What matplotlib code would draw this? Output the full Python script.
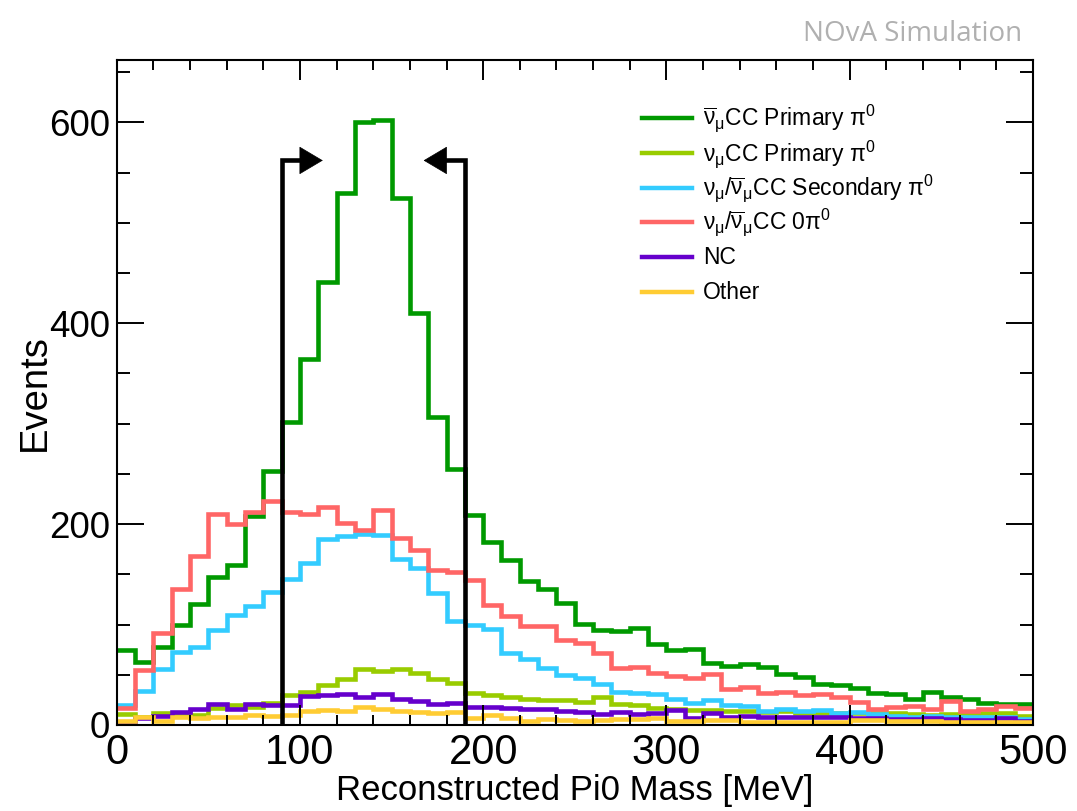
import numpy as np
import matplotlib
matplotlib.use("Agg")
import matplotlib.pyplot as plt
from matplotlib.ticker import MultipleLocator

# ---- data: reconstructed pi0 mass, 10 MeV bins from 0 to 500 MeV ----
bin_edges = np.arange(0, 510, 10)

numubar_cc_primary = [75, 63, 78, 100, 120, 147, 159, 208, 253, 302,
                      364, 441, 530, 600, 602, 525, 410, 307, 255, 209,
                      182, 164, 143, 135, 121, 101, 95, 94, 97, 81,
                      75, 76, 62, 59, 61, 58, 51, 48, 41, 40,
                      37, 32, 31, 26, 33, 28, 26, 22, 21, 21]
numu_cc_primary = [11, 8, 12, 11, 10, 17, 20, 18, 22, 30,
                   33, 40, 46, 56, 54, 56, 52, 46, 42, 32,
                   30, 27.5, 26, 25, 25, 23, 28, 21, 20, 17,
                   16, 15, 15, 14, 14, 13, 14, 12, 12, 12,
                   12, 12, 12, 11, 10, 11, 11, 12, 12, 9]
cc_secondary = [20, 34, 56, 73, 78, 95, 110, 118, 132, 145,
                161, 185, 188, 190, 189, 165, 156, 131, 104, 100,
                96, 72, 66, 57, 50, 47, 41, 33, 31.5, 30.5,
                26, 22, 25, 20, 19, 14, 16, 14, 15, 12,
                13, 11, 9, 8, 9, 8, 8, 8, 8, 6]
cc_zero_pi0 = [17, 55, 92, 135, 168, 210, 200, 212, 223, 212,
               210, 217, 201, 194, 214, 186, 174, 154, 152, 144,
               119, 109, 98.5, 99, 85, 82, 72, 57, 58, 52,
               49, 47, 51, 36, 38, 32, 33, 30, 31, 28,
               23, 16, 18, 19, 16, 24, 14, 16, 19, 17]
nc = [2, 7, 9, 13, 16, 21, 16, 21, 20, 20,
      29, 30, 31, 28, 31, 26, 24, 21, 22, 18,
      17.5, 16.5, 16, 15.5, 14, 13, 11, 13, 11, 12,
      15, 7, 12, 8, 9, 8, 8, 8, 8, 8,
      7, 7, 6, 6, 7, 6, 5, 5, 7, 4]
other = [4, 8, 4, 8, 7, 8, 8, 10, 9, 10,
         14, 15, 14, 18, 16, 14, 13, 12, 13, 7,
         10, 7, 4, 6, 5, 4, 5, 6, 6, 7,
         4, 4, 5, 5, 3, 3, 3, 3, 3, 3,
         5, 5, 4, 4, 4, 3, 3, 3, 3, 3]

labels = [r"$\overline{\nu}_{\mu}$CC Primary $\pi^{0}$",
          r"$\nu_{\mu}$CC Primary $\pi^{0}$",
          r"$\nu_{\mu}/\overline{\nu}_{\mu}$CC Secondary $\pi^{0}$",
          r"$\nu_{\mu}/\overline{\nu}_{\mu}$CC 0$\pi^{0}$",
          "NC",
          "Other"]
colors = ["#009900", "#99cc00", "#33ccff", "#ff6666", "#6600cc", "#ffcc33"]
series = [numubar_cc_primary, numu_cc_primary, cc_secondary,
          cc_zero_pi0, nc, other]

# selection window on the reconstructed mass
cut_low, cut_high = 90, 190
cut_marker_height = 562

plt.rcParams["font.family"] = ["Liberation Sans", "DejaVu Sans"]
plt.rcParams["mathtext.fontset"] = "custom"
plt.rcParams["mathtext.rm"] = "Liberation Sans"
plt.rcParams["mathtext.it"] = "Liberation Sans"
plt.rcParams["mathtext.bf"] = "Liberation Sans:bold"
plt.rcParams["mathtext.default"] = "regular"

W, H = 1077, 811
fig = plt.figure(figsize=(W / 100, H / 100), dpi=100)
ax_left, ax_right, ax_top, ax_bottom = 116.6, 1033.0, 60.0, 725.0
ax = fig.add_axes([ax_left / W, 1 - ax_bottom / H,
                   (ax_right - ax_left) / W, (ax_bottom - ax_top) / H])

for vals, col in zip(series, colors):
    ax.stairs(vals, bin_edges, color=col, lw=3.3, baseline=None)

# cut markers: vertical bar with an arrow pointing into the window
for cut, direction in [(cut_low, 1), (cut_high, -1)]:
    shaft_end = cut + direction * 10
    ax.plot([cut, cut, shaft_end], [0, cut_marker_height, cut_marker_height],
            color="black", lw=3.3, solid_joinstyle="miter", zorder=5)
    ax.annotate("", xy=(shaft_end + direction * 12.5, cut_marker_height),
                xytext=(shaft_end - direction * 0.5, cut_marker_height),
                arrowprops=dict(arrowstyle="-|>,head_length=1.6,head_width=0.95",
                                mutation_scale=10, color="black", lw=0.5,
                                shrinkA=0, shrinkB=0),
                zorder=5)

ax.set_xlim(0, 500)
ax.set_ylim(0, 662)
ax.xaxis.set_major_locator(MultipleLocator(100))
ax.xaxis.set_minor_locator(MultipleLocator(20))
ax.yaxis.set_major_locator(MultipleLocator(200))
ax.yaxis.set_minor_locator(MultipleLocator(50))

ax.tick_params(which="both", direction="in", top=True, right=True, width=1.4)
ax.tick_params(axis="x", which="major", length=14.4, labelsize=30, pad=6)
ax.tick_params(axis="x", which="minor", length=7.2)
ax.tick_params(axis="y", which="major", length=19.4, labelsize=26.5, pad=5)
ax.tick_params(axis="y", which="minor", length=9.7)
for sp in ax.spines.values():
    sp.set_linewidth(1.5)

axw, axh = ax_right - ax_left, ax_bottom - ax_top
ax.set_xlabel("Reconstructed Pi0 Mass [MeV]", fontsize=25)
ax.xaxis.set_label_coords(0.5, -(774 - ax_bottom) / axh)
ax.xaxis.label.set_va("top")
ax.set_ylabel("Events", fontsize=27.5)
ax.yaxis.set_label_coords(-0.089, 0.5)
ax.yaxis.label.set_va("center")

# legend drawn row by row
row_y = [118, 153, 188, 222, 257, 292]
for lab, col, ypx in zip(labels, colors, row_y):
    yf = (ax_bottom - ypx) / axh
    ax.plot([(642 - ax_left) / axw, (692 - ax_left) / axw], [yf, yf],
            transform=ax.transAxes, color=col, lw=3.2, clip_on=False)
    ax.text((703 - ax_left) / axw, yf - 7.5 / axh, lab, transform=ax.transAxes,
            fontsize=16.5, va="baseline", ha="left")

fig.text(1022 / W, 1 - 41 / H, "NOvA Simulation", color="#b0b0b0",
         fontsize=20, ha="right", va="baseline", family="Open Sans")

fig.savefig("out.png", dpi=100)
